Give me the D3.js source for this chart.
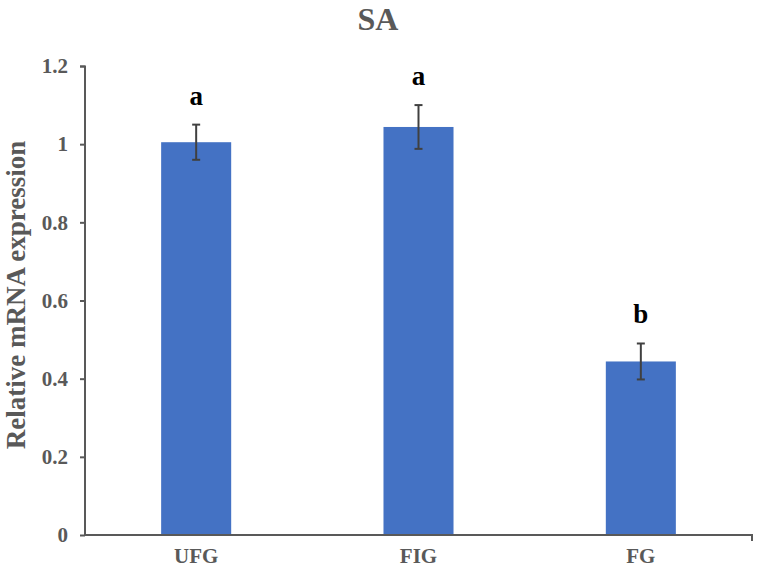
<!DOCTYPE html>
<html>
<head>
<meta charset="utf-8">
<script src="https://cdn.jsdelivr.net/npm/d3@7"></script>
<style>
  body { margin: 0; background: #fff; }
  svg { display: block; font-family: "Liberation Serif", "Times New Roman", serif; }
</style>
</head>
<body>
<svg id="chart"></svg>
<script>
const W = 761, H = 570;
const margin = {top: 66, right: 9, bottom: 35, left: 85};
const width = W - margin.left - margin.right;
const height = H - margin.top - margin.bottom;

// data
const groups = ['UFG', 'FIG', 'FG'];
const means = [1.005, 1.044, 0.444];
const errors = [0.045, 0.056, 0.046];
const letters = ['a', 'a', 'b'];
const yTicks = [0, 0.2, 0.4, 0.6, 0.8, 1, 1.2];

const svg = d3.select("#chart")
    .attr("width", W)
    .attr("height", H);

const g = svg.append("g")
    .attr("transform", `translate(${margin.left},${margin.top})`);

const x = d3.scaleBand()
    .domain(groups)
    .range([0, width])
    .paddingInner(0.685)
    .paddingOuter(0.3425);

const y = d3.scaleLinear()
    .domain([0, 1.2])
    .range([height, 0]);

const rows = groups.map((k, i) => ({key: k, mean: means[i], err: errors[i], letter: letters[i]}));

// bars
g.selectAll(".bar")
    .data(rows)
    .enter()
    .append("rect")
    .attr("class", "bar")
    .attr("x", d => x(d.key))
    .attr("y", d => y(d.mean))
    .attr("width", x.bandwidth())
    .attr("height", d => height - y(d.mean))
    .attr("fill", "#4472C4");

// error bars
const eb = g.selectAll(".err")
    .data(rows)
    .enter()
    .append("g")
    .attr("class", "err")
    .attr("stroke", "#404040")
    .attr("stroke-width", 2);

eb.append("line")
    .attr("x1", d => x(d.key) + x.bandwidth() / 2)
    .attr("x2", d => x(d.key) + x.bandwidth() / 2)
    .attr("y1", d => y(d.mean - d.err))
    .attr("y2", d => y(d.mean + d.err));

eb.append("line")
    .attr("x1", d => x(d.key) + x.bandwidth() / 2 - 4)
    .attr("x2", d => x(d.key) + x.bandwidth() / 2 + 4)
    .attr("y1", d => y(d.mean + d.err))
    .attr("y2", d => y(d.mean + d.err));

eb.append("line")
    .attr("x1", d => x(d.key) + x.bandwidth() / 2 - 4)
    .attr("x2", d => x(d.key) + x.bandwidth() / 2 + 4)
    .attr("y1", d => y(d.mean - d.err))
    .attr("y2", d => y(d.mean - d.err));

// significance letters
g.selectAll(".sig")
    .data(rows)
    .enter()
    .append("text")
    .attr("class", "sig")
    .attr("x", d => x(d.key) + x.bandwidth() / 2)
    .attr("y", d => y(d.mean + d.err) - 20)
    .attr("text-anchor", "middle")
    .attr("font-size", "27px")
    .attr("font-weight", "bold")
    .attr("fill", "#000")
    .text(d => d.letter);

// y axis
const yAxis = g.append("g")
    .call(d3.axisLeft(y).tickValues(yTicks).tickSize(5).tickPadding(12)
        .tickFormat(d => d3.format("")(+d.toFixed(1))));
yAxis.select(".domain").attr("stroke", "#595959").attr("stroke-width", 2)
    .attr("d", `M-5,0.5H0V${height}`);
yAxis.selectAll(".tick line").attr("stroke", "#595959").attr("stroke-width", 2);
yAxis.selectAll("text")
    .attr("font-size", "21px")
    .attr("font-weight", "bold")
    .attr("fill", "#595959")
    .attr("font-family", "Liberation Serif, serif");

// x axis
const xAxis = g.append("g")
    .attr("transform", `translate(0,${height})`)
    .call(d3.axisBottom(x).tickSize(0).tickPadding(13));
xAxis.select(".domain").attr("stroke", "#595959").attr("stroke-width", 2)
    .attr("d", `M0,0H${width}V6`);
xAxis.selectAll("text")
    .attr("font-size", "21px")
    .attr("font-weight", "bold")
    .attr("fill", "#595959")
    .attr("font-family", "Liberation Serif, serif");

// title
svg.append("text")
    .attr("x", 378)
    .attr("y", 30)
    .attr("text-anchor", "middle")
    .attr("font-size", "32px")
    .attr("font-weight", "bold")
    .attr("fill", "#595959")
    .text("SA");

// y label
svg.append("text")
    .attr("transform", `translate(25,295) rotate(-90)`)
    .attr("text-anchor", "middle")
    .attr("font-size", "27px")
    .attr("font-weight", "bold")
    .attr("fill", "#595959")
    .text("Relative mRNA expression");
</script>
</body>
</html>
